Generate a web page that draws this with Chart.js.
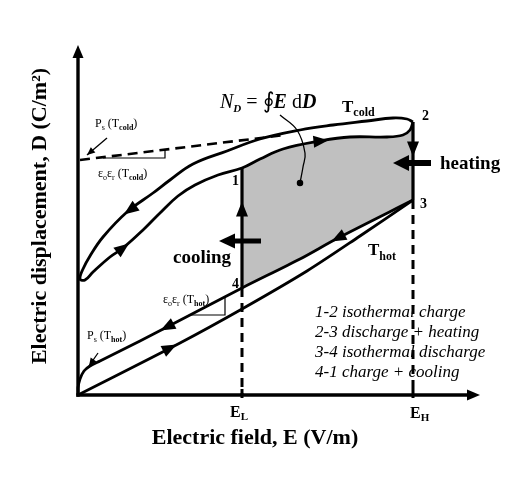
<!DOCTYPE html>
<html><head><meta charset="utf-8">
<script src="https://cdn.jsdelivr.net/npm/chart.js@4.4.0/dist/chart.umd.min.js"></script>
<style>html,body{margin:0;padding:0;background:#fff;}#wrap{width:526px;height:492px;position:relative;}</style>
</head><body><div id="wrap"><canvas id="c"></canvas></div>
<script>
// ---- values (E and D in arbitrary units) ----
const E_L = 164, E_H = 335;
const E_MAX = 402, D_MAX = 350;
// cold loop, upper branch (from 2 down to the lower-left tip)
const coldUpperE = [335,329,315,289,255,222,182,149,115,92,75,49,25,12,5,2];
const coldUpperD = [273,276,277,274,270,265,256,244,231,215,202,183,158,139,126,116];
// cold loop, lower branch (from the tip back up to 2)
const coldLowerE = [7,15,32,45,65,82,100,117,140,164,182,205,242,272,309,325,332,335];
const coldLowerD = [115,123,138,147,165,182,199,210,220,227,236,246,254,258,258,260,265,273];
// hot loop
const hotLowerE = [0,102,164,229,282,335];
const hotLowerD = [0,52,86,124,159,195];
const hotUpperE = [335,260,222,164,89,62,22,12,6,2,0,0];
const hotUpperD = [195,157,136,107,68,54,34,29,24,16,7,0];
// saturation-polarisation tangent at T_cold
const psColdE = [2,207];
const psColdD = [235,260];
// cycle corners
const cornerNames = ['1','2','3','4'];
const cornerE = [E_L,E_H,E_H,E_L];
const cornerD = [227,273,195,107];
const phaseLabels = ['1-2 isothermal charge','2-3 discharge + heating','3-4 isothermal discharge','4-1 charge + cooling'];
const xTitle = 'Electric field, E (V/m)';
const yTitle = 'Electric displacement, D (C/m\u00B2)';

const pts = (xs, ys) => xs.map((x, i) => ({x, y: ys[i]}));
const fillTop = pts(coldLowerE, coldLowerD).filter(p => p.x >= E_L);
const fillBottom = pts(hotUpperE, hotUpperD).filter(p => p.x >= E_L).reverse();
const coldLoop = pts(coldUpperE, coldUpperD).concat(pts(coldLowerE, coldLowerD));

const SERIF = '"Liberation Serif","Times New Roman",serif';
const base = {showLine:true, pointRadius:0, borderColor:'#000', backgroundColor:'#000', fill:false, clip:false};

const datasets = [
  {...base, data: fillTop, borderWidth:0, backgroundColor:'#c0c0c0', fill:1, order:20, tension:0.4},
  {...base, data: fillBottom, borderWidth:0, order:21, tension:0},
  {...base, data: coldLoop, borderWidth:2.8, tension:0.4},
  {...base, data: pts(hotLowerE, hotLowerD), borderWidth:2.8, tension:0.3},
  {...base, data: pts(hotUpperE, hotUpperD), borderWidth:2.8, tension:0.3},
  {...base, data: pts(psColdE, psColdD), borderWidth:2.6, borderDash:[10,6]},
  {...base, data: [{x:cornerE[3],y:cornerD[3]},{x:E_L,y:0}], borderWidth:3, borderDash:[9,6]},
  {...base, data: [{x:cornerE[2],y:cornerD[2]},{x:E_H,y:0}], borderWidth:3, borderDash:[9,6]},
  {...base, data: [{x:cornerE[3],y:cornerD[3]},{x:cornerE[0],y:cornerD[0]}], borderWidth:3.2},
  {...base, data: [{x:cornerE[1],y:cornerD[1]},{x:cornerE[2],y:cornerD[2]}], borderWidth:3.2},
  {...base, data: [{x:25,y:237},{x:87,y:237},{x:87,y:245}], borderWidth:1.2},
  {...base, data: [{x:112,y:80},{x:147,y:80},{x:147,y:98}], borderWidth:1.2},
  {...base, data: [{x:29,y:257},{x:9,y:240}], borderWidth:1.3},
  {...base, data: [{x:20,y:42},{x:11,y:29}], borderWidth:1.3},
  {...base, data: [{x:202,y:280},{x:219,y:265},{x:227,y:242},{x:225,y:228},{x:222,y:212}], borderWidth:1.3, tension:0.4, pointRadius:[0,0,0,0,2.6]},
];

// flow arrowheads: [E, D, dirE, dirD]
const flowArrows = [
  [52,185,-1,-0.73],[45,147,1,0.75],[243,254,1,0.1],
  [E_L,186,0,1],[E_H,246,0,-1],
  [260,157,-1,-0.53],[89,68,-1,-0.52],[92,47,1,0.51]
];

function tri(ctx, cx, cy, ang, len, hw, atTip){
  const ux = Math.cos(ang), uy = Math.sin(ang);
  let tx, ty;
  if (atTip){ tx = cx; ty = cy; } else { tx = cx + ux*len/2; ty = cy + uy*len/2; }
  const bx = tx - ux*len, by = ty - uy*len;
  ctx.beginPath();
  ctx.moveTo(tx, ty);
  ctx.lineTo(bx - uy*hw, by + ux*hw);
  ctx.lineTo(bx + uy*hw, by - ux*hw);
  ctx.closePath(); ctx.fill();
}
function rich(ctx, x, y, parts){
  let cx = x;
  for (const [t, f, dy] of parts){ ctx.font = f; ctx.fillText(t, cx, y + (dy||0)); cx += ctx.measureText(t).width; }
}
const F = (s) => s + ' ' + SERIF;

const annot = {
  id:'annot',
  afterDatasetsDraw(chart){
    const ctx = chart.ctx;
    const X = v => chart.scales.x.getPixelForValue(v), Y = v => chart.scales.y.getPixelForValue(v);
    ctx.save();
    ctx.fillStyle = '#000'; ctx.strokeStyle = '#000';
    // axes
    ctx.lineWidth = 3.4; ctx.lineCap = 'butt';
    ctx.beginPath(); ctx.moveTo(X(0), Y(0)+1.7); ctx.lineTo(X(0), Y(D_MAX)+10); ctx.stroke();
    ctx.beginPath(); ctx.moveTo(X(0)-1.7, Y(0)); ctx.lineTo(X(E_MAX)-10, Y(0)); ctx.stroke();
    tri(ctx, X(0), Y(D_MAX), -Math.PI/2, 13, 5.5, true);
    tri(ctx, X(E_MAX), Y(0), 0, 13, 5.5, true);
    // ticks
    ctx.lineWidth = 3;
    [E_L, E_H].forEach(e => { ctx.beginPath(); ctx.moveTo(X(e), Y(6)); ctx.lineTo(X(e), Y(-3)); ctx.stroke(); });
    // flow arrows
    flowArrows.forEach(([e,d,de,dd]) => {
      const ang = Math.atan2(-(dd), de);
      tri(ctx, X(e), Y(d), ang, 15, 6, false);
    });
    // pointer arrowheads
    tri(ctx, X(9), Y(240), Math.atan2(17, -20), 8, 3.5, true);
    tri(ctx, X(11), Y(29), Math.atan2(13, -9), 8, 3.5, true);
    // heating / cooling arrows
    ctx.lineWidth = 6;
    ctx.beginPath(); ctx.moveTo(X(353), Y(232)); ctx.lineTo(X(327), Y(232)); ctx.stroke();
    tri(ctx, X(315), Y(232), Math.PI, 16, 8, true);
    ctx.lineWidth = 5;
    ctx.beginPath(); ctx.moveTo(X(183), Y(154)); ctx.lineTo(X(153), Y(154)); ctx.stroke();
    tri(ctx, X(141), Y(154), Math.PI, 16, 7.5, true);

    ctx.textBaseline = 'alphabetic'; ctx.textAlign = 'left';
    // corner numbers
    const cpos = [[154,210],[344,275],[342,187],[154,107]];
    cornerNames.forEach((n,i) => { ctx.font = F('bold 14px'); ctx.fillText(n, X(cpos[i][0]), Y(cpos[i][1])); });
    // heating / cooling
    ctx.font = F('bold 19px'); ctx.fillText('heating', X(362), Y(226));
    ctx.fillText('cooling', X(95), Y(132));
    // T labels
    rich(ctx, X(264), Y(283), [['T', F('bold 17px')], ['cold', F('bold 12px'), 4]]);
    rich(ctx, X(290), Y(140), [['T', F('bold 17px')], ['hot', F('bold 12px'), 5]]);
    // N_D
    rich(ctx, X(142), Y(287), [['N', F('italic 20px')], ['D', F('italic bold 11px'), 4], [' = ', F('20px')], ['\u222E', F('22px')], ['E', F('italic bold 20px')], [' d', F('20px')], ['D', F('italic bold 20px')]]);
    // small labels
    rich(ctx, X(17), Y(268), [['P', F('12px')], ['s', F('8px'), 3], [' (T', F('12px')], ['cold', F('bold 8px'), 3], [')', F('12px')]]);
    rich(ctx, X(20), Y(218), [['\u03B5', F('12px')], ['o', F('8px'), 3], ['\u03B5', F('12px')], ['r', F('8px'), 3], [' (T', F('12px')], ['cold', F('bold 8px'), 3], [')', F('12px')]]);
    rich(ctx, X(85), Y(92), [['\u03B5', F('12px')], ['o', F('8px'), 3], ['\u03B5', F('12px')], ['r', F('8px'), 3], [' (T', F('12px')], ['hot', F('bold 8px'), 3], [')', F('12px')]]);
    rich(ctx, X(9), Y(56), [['P', F('12px')], ['s', F('8px'), 3], [' (T', F('12px')], ['hot', F('bold 8px'), 3], [')', F('12px')]]);
    // phase legend
    ctx.font = F('italic 17px');
    phaseLabels.forEach((t,i) => ctx.fillText(t, X(237), Y(78 - 20*i)));
    // tick labels
    rich(ctx, X(152), Y(-22), [['E', F('bold 16px')], ['L', F('bold 11px'), 3]]);
    rich(ctx, X(332), Y(-23), [['E', F('bold 16px')], ['H', F('bold 11px'), 3]]);
    // axis titles
    ctx.font = F('bold 22px'); ctx.textAlign = 'center';
    ctx.fillText(xTitle, X(177), Y(-49));
    ctx.save(); ctx.translate(X(-38), Y(179)); ctx.rotate(-Math.PI/2); ctx.textBaseline = 'middle';
    ctx.fillText(yTitle, 0, 0); ctx.restore();
    ctx.restore();
  }
};

new Chart(document.getElementById('c'), {
  type:'line',
  data:{datasets},
  options:{
    responsive:true, maintainAspectRatio:false, animation:false, events:[],
    layout:{padding:{left:78, right:526-78-E_MAX, top:45, bottom:492-45-D_MAX}},
    scales:{
      x:{type:'linear', min:0, max:E_MAX, display:false},
      y:{type:'linear', min:0, max:D_MAX, display:false}
    },
    plugins:{legend:{display:false}, tooltip:{enabled:false}}
  },
  plugins:[annot]
});
</script></body></html>
